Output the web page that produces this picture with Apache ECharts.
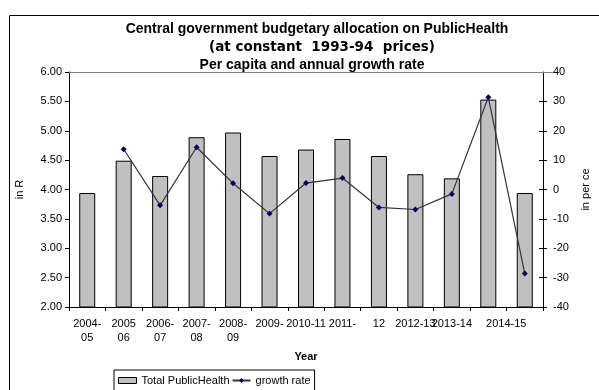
<!DOCTYPE html>
<html>
<head>
<meta charset="utf-8">
<script src="https://cdn.jsdelivr.net/npm/echarts@6/dist/echarts.min.js"></script>
<style>
  html, body { margin: 0; padding: 0; background: #fff; }
  #chart { width: 599px; height: 390px; }
</style>
</head>
<body>
<div id="chart"></div>
<script>
// Year labels as printed under each bar (wrapped the way the axis shows them)
var years = ['2004-\n05', '2005\n06', '2006-\n07', '2007-\n08', '2008-\n09', '2009-',
             '2010-11', '2011-', '12', '2012-13', '2013-14', '2014-15', ''];
// Per capita allocation on public health (in Rs, constant 1993-94 prices)
var perCapita = [3.94, 4.49, 4.23, 4.89, 4.97, 4.57, 4.68, 4.86, 4.57, 4.26, 4.19, 5.53, 3.94];
// Annual growth rate (in per cent); no value for the first year
var growthRate = [null, 13.7, -5.4, 14.4, 2.1, -8.2, 2.2, 3.9, -6.1, -6.8, -1.5, 31.4, -28.6];
var leftTicks = { min: 2, max: 6, interval: 0.5 };
var rightTicks = { min: -40, max: 40, interval: 10 };

var FONT = '"Liberation Sans", Arial, sans-serif';
var chart = echarts.init(document.getElementById('chart'), null, { renderer: 'canvas' });

var catData = years.map(function (y, i) {
  // the last printed label sits between the final two bars
  if (i === 11) return { value: y, textStyle: { padding: [0, 0, 0, 36] } };
  return y;
});

chart.setOption({
  backgroundColor: '#fff',
  animation: false,
  title: [
    { text: 'Central government budgetary allocation on PublicHealth', left: 312, top: 17, textAlign: 'center',
      textStyle: { fontFamily: FONT, fontSize: 14, fontWeight: 'bold', color: '#000' } },
    { text: '(at constant  1993-94  prices)', left: 317, top: 35, textAlign: 'center',
      textStyle: { fontFamily: '"DejaVu Sans", sans-serif', fontSize: 13.5, fontWeight: 'bold', color: '#000' } },
    { text: 'Per capita and annual growth rate', left: 307, top: 53, textAlign: 'center',
      textStyle: { fontFamily: FONT, fontSize: 14, fontWeight: 'bold', color: '#000' } }
  ],
  legend: {
    left: 114, top: 370,
    padding: [5, 4, 12, 4],
    itemGap: 2,
    borderColor: '#000', borderWidth: 1,
    backgroundColor: '#fff',
    textStyle: { fontFamily: FONT, fontSize: 11, color: '#000' },
    data: [
      { name: 'Total PublicHealth', icon: 'rect', itemStyle: { color: '#c0c0c0', borderColor: '#000', borderWidth: 1 } },
      { name: 'growth rate' }
    ],
    itemWidth: 18, itemHeight: 6
  },
  grid: { left: 69, right: 46, top: 72, bottom: 83, show: true, borderWidth: 0 },
  xAxis: {
    type: 'category',
    data: catData,
    name: 'Year',
    nameLocation: 'middle',
    nameGap: 44,
    nameTextStyle: { fontFamily: FONT, fontSize: 11, fontWeight: 'bold', color: '#000' },
    axisLine: { onZero: false, lineStyle: { color: '#000', width: 1 } },
    axisTick: { show: true, length: 4, lineStyle: { color: '#000' } },
    axisLabel: { interval: 0, margin: 10, lineHeight: 14, fontFamily: FONT, fontSize: 11, color: '#000' }
  },
  yAxis: [
    {
      type: 'value', min: leftTicks.min, max: leftTicks.max, interval: leftTicks.interval,
      name: 'in R', nameLocation: 'middle', nameGap: 44, nameRotate: 90,
      nameTextStyle: { fontFamily: FONT, fontSize: 11, color: '#000' },
      axisLine: { show: true, lineStyle: { color: '#000' } },
      axisTick: { show: true, length: 4, lineStyle: { color: '#000' } },
      splitLine: { show: false },
      axisLabel: { margin: 7, fontFamily: FONT, fontSize: 11, color: '#000',
                   formatter: function (v) { return v.toFixed(2); } }
    },
    {
      type: 'value', min: rightTicks.min, max: rightTicks.max, interval: rightTicks.interval,
      position: 'right',
      name: 'in per ce', nameLocation: 'middle', nameGap: 37, nameRotate: 90,
      nameTextStyle: { fontFamily: FONT, fontSize: 11, color: '#000' },
      axisLine: { show: true, lineStyle: { color: '#000' } },
      axisTick: { show: true, length: 4, lineStyle: { color: '#000' } },
      splitLine: { show: false },
      axisLabel: { margin: 10, fontFamily: FONT, fontSize: 11, color: '#000' }
    },
    {
      // inner half of the crossing tick marks on the right axis
      type: 'value', min: rightTicks.min, max: rightTicks.max, interval: rightTicks.interval,
      position: 'right',
      axisLine: { show: false },
      axisTick: { show: true, inside: true, length: 4, lineStyle: { color: '#000' } },
      axisLabel: { show: false },
      splitLine: { show: false }
    }
  ],
  series: [
    {
      name: 'Total PublicHealth', type: 'bar', yAxisIndex: 0,
      data: perCapita, barWidth: 16,
      itemStyle: { color: '#c0c0c0', borderColor: '#000', borderWidth: 1 }
    },
    {
      name: 'growth rate', type: 'line', yAxisIndex: 1,
      data: growthRate, connectNulls: false,
      symbol: 'diamond', symbolSize: 6,
      lineStyle: { color: '#333', width: 1.2 },
      itemStyle: { color: '#000066' }
    }
  ]
});
// outer frame and the top border of the plot area at 6.00
var topY = Math.round(chart.convertToPixel({ yAxisIndex: 0 }, leftTicks.max)) + 0.5;
chart.setOption({
  graphic: [
    { type: 'rect', left: 7, top: 13, shape: { width: 620, height: 420 }, silent: true,
      style: { fill: 'none', stroke: '#000', lineWidth: 1 } },
    { type: 'line', silent: true, z: 1,
      shape: { x1: 69, y1: topY, x2: 553, y2: topY },
      style: { stroke: '#808080', lineWidth: 1 } }
  ]
});
</script>
</body>
</html>
